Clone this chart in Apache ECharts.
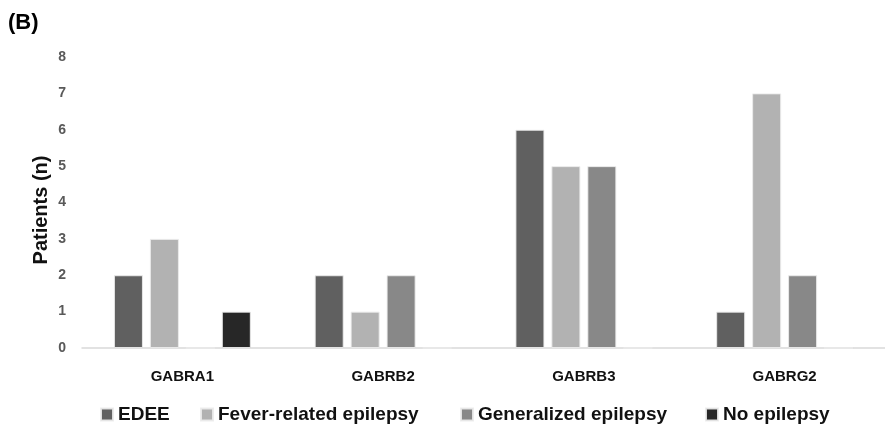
<!DOCTYPE html>
<html><head><meta charset="utf-8">
<script src="https://cdn.jsdelivr.net/npm/echarts@6/dist/echarts.min.js"></script>
<style>html,body{margin:0;padding:0;background:#fff}#c{width:885px;height:431px}</style>
</head><body><div id="c"></div>
<script>
const categories = ['GABRA1','GABRB2','GABRB3','GABRG2'];
const seriesNames = ['EDEE','Fever-related epilepsy','Generalized epilepsy','No epilepsy'];
const edee = [2,2,6,1];
const fever = [3,1,5,7];
const generalized = [0,2,5,2];
const noEpilepsy = [1,0,0,0];
const colors = ['#606060','#b2b2b2','#888888','#272727'];
const values = [edee, fever, generalized, noEpilepsy];
const legendLeft = [95,195,455,700];
const yTitle = 'Patients (n)';

const chart = echarts.init(document.getElementById('c'), null, {renderer:'canvas'});
chart.setOption({
  animation:false,
  backgroundColor:'#fff',
  graphic:[
    {type:'text',left:8,top:12,style:{text:'(B)',font:'bold 22px Arial, "Liberation Sans"',fill:'#000'}},
    {type:'text',x:41,y:210,rotation:Math.PI/2,
     style:{text:yTitle,font:'bold 20px Arial, "Liberation Sans"',fill:'#111',textAlign:'center',textVerticalAlign:'middle'}}
  ],
  legend: seriesNames.map((n,i)=>({
    top:400, left:legendLeft[i],
    itemWidth:12, itemHeight:12, icon:'rect',
    textStyle:{fontFamily:'Arial, "Liberation Sans"',fontWeight:'bold',fontSize:19,color:'#111'},
    data:[n]
  })),
  grid:{left:82, top:57, width:808, height:291},
  xAxis:{type:'category',data:categories,
    axisLine:{lineStyle:{color:'#d9d9d9',width:1.5}},axisTick:{show:false},
    axisLabel:{fontFamily:'Arial, "Liberation Sans"',fontWeight:'bold',fontSize:15,color:'#111',margin:21}},
  yAxis:{type:'value',min:0,max:8,interval:1,
    splitLine:{show:false},axisLine:{show:false},axisTick:{show:false},
    axisLabel:{fontFamily:'Arial, "Liberation Sans"',fontWeight:'bold',fontSize:14,color:'#595959',margin:16}},
  series: seriesNames.map((n,i)=>({
    name:n,type:'bar',data:values[i],
    barWidth:29, barGap:'24%', barCategoryGap:'32%',
    itemStyle:{color:colors[i],borderColor:'rgba(235,235,235,0.9)',borderWidth:1}
  }))
});
</script></body></html>
